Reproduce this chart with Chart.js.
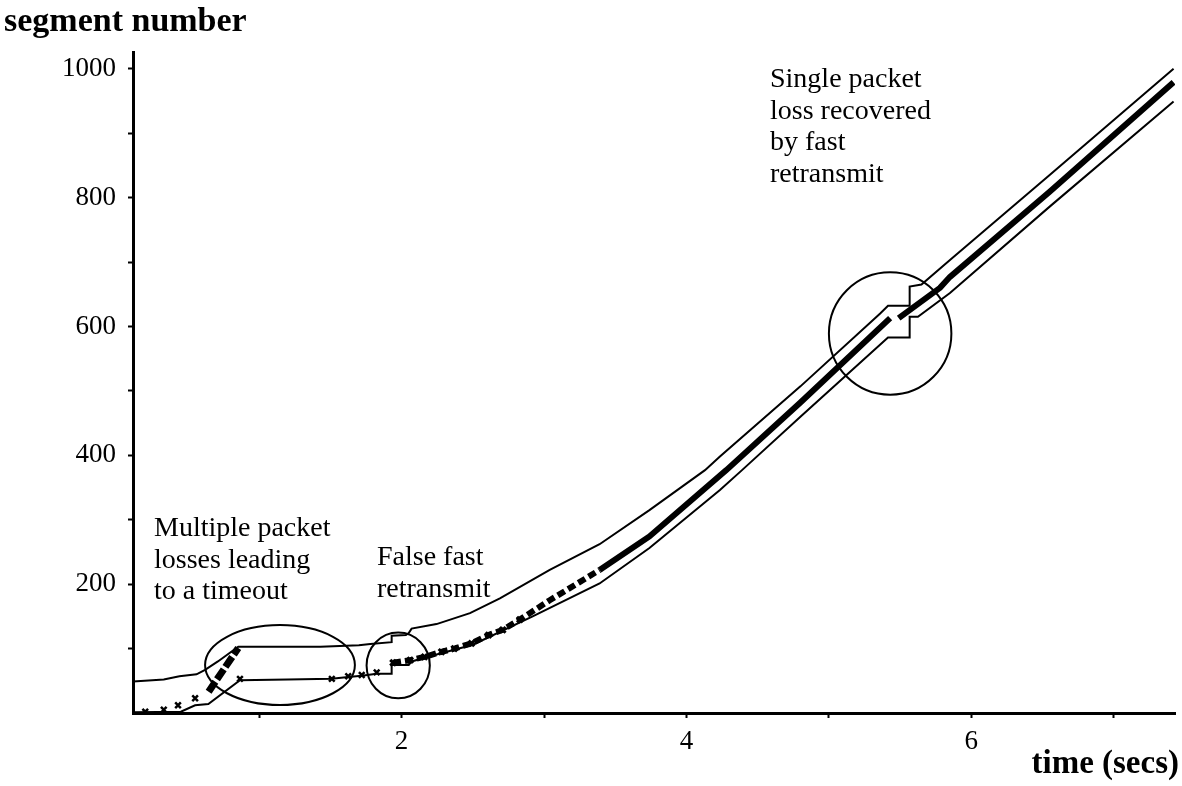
<!DOCTYPE html>
<html><head><meta charset="utf-8">
<script src="https://cdn.jsdelivr.net/npm/chart.js@4"></script>
<style>html,body{margin:0;padding:0;background:#fff}canvas{display:block}</style>
</head><body>
<canvas id="c" width="1182" height="786"></canvas>
<script>
// upper thin line
const upperTime = [0.114,0.33,0.44,0.56,0.62,0.71,0.853,1.43,1.70,1.78,1.93,1.93,2.03,2.05,2.07,2.245,2.48,2.69,3.04,3.39,3.74,4.13,4.235,4.80,5.36,5.415,5.567,5.567,5.65,5.85,6.55,7.42];
const upperSeg  = [49,52,57,60,67,80,103,103,105,107,110,120,121,124,131,138,155,178,222,262,315,377,398,507,620,632,632,662,665,703,835,1000];
// lower thin line (acks)
const ackTime = [0.114,0.45,0.55,0.643,0.865,1.20,1.51,1.625,1.72,1.825,1.93,1.93,2.05,2.07,2.20,2.50,2.92,3.39,3.74,4.235,4.39,4.80,5.415,5.567,5.567,5.625,5.85,6.55,7.42];
const ackSeg  = [1,2,12,14,51,52,53,56,58,61,61,74.5,74.5,80,88,106,150,201,256,346,377,460,583,583,615,615,652,786,949];
// early isolated sends (x markers)
const markTime = [0.20,0.33,0.43,0.55,0.865,1.51,1.625,1.72,1.825];
const markSeg  = [2,5,12,23,53,53,57,59,63];
// burst before timeout
const burstTime = [0.645,0.853];
const burstSeg  = [33,101];
// main sends (null = gap)
const sentTime = [1.94,2.06,2.16,2.28,2.37,2.49,2.61,2.71,2.83,3.04,3.39,3.74,4.28,4.80,5.43,5.46,5.49,5.78,5.85,6.55,7.42];
const sentSeg  = [78,82,87,95,100,108,121,129,145,175,222,274,377,482,613,null,613,660,677,809,979];
// ticks
const xTicks = [1,2,3,4,5,6,7];
const xTickLabels = ['','2','','4','','6',''];
const yTicks = [100,200,300,400,500,600,700,800,900,1000];
const yTickLabels = ['','200','','400','','600','','800','','1000'];
// annotation ellipses (data units)
const ellCx = [1.146,1.976,5.43];
const ellCy = [74.5,73.8,589];
const ellRx = [0.526,0.222,0.43];
const ellRy = [62,51,95];

const pts = (xs, ys) => xs.map((x,i)=>({x:x, y:ys[i]}));

const extras = {
  id:'extras',
  afterDatasetsDraw(chart){
    const {ctx, scales:{x,y}} = chart;
    ctx.save();
    ctx.strokeStyle='#000'; ctx.lineWidth=2;
    for(let i=0;i<ellCx.length;i++){
      const cx=x.getPixelForValue(ellCx[i]), cy=y.getPixelForValue(ellCy[i]);
      const rx=Math.abs(x.getPixelForValue(ellCx[i]+ellRx[i])-cx);
      const ry=Math.abs(y.getPixelForValue(ellCy[i]+ellRy[i])-cy);
      ctx.beginPath(); ctx.ellipse(cx,cy,rx,ry,0,0,Math.PI*2); ctx.stroke();
    }
    ctx.restore();
  },
  afterDraw(chart){
    const ctx=chart.ctx;
    ctx.save();
    ctx.fillStyle='#000';
    ctx.textBaseline='alphabetic';
    ctx.font='bold 34px "Liberation Serif"';
    ctx.textAlign='left';
    ctx.fillText('segment number',4,31);
    ctx.font='bold 33px "Liberation Serif"';
    ctx.textAlign='right';
    ctx.fillText('time (secs)',1179,773);
    ctx.textAlign='left';
    ctx.font='28px "Liberation Serif"';
    const blocks=[
      {x:154,y:536,lines:['Multiple packet','losses leading','to a timeout']},
      {x:377,y:565,lines:['False fast','retransmit']},
      {x:770,y:87,lines:['Single packet','loss recovered','by fast','retransmit']}
    ];
    blocks.forEach(b=>b.lines.forEach((t,i)=>ctx.fillText(t,b.x,b.y+i*31.5)));
    ctx.restore();
  }
};

new Chart(document.getElementById('c'),{
  type:'scatter',
  data:{datasets:[
    {data:pts(upperTime,upperSeg),showLine:true,borderColor:'#000',borderWidth:2,pointRadius:0,tension:0},
    {data:pts(ackTime,ackSeg),showLine:true,borderColor:'#000',borderWidth:2,pointRadius:0,tension:0},
    {data:pts(burstTime,burstSeg),showLine:true,borderColor:'#000',borderWidth:7,pointRadius:0,borderDash:[12,3]},
    {data:pts(sentTime,sentSeg),showLine:true,borderColor:'#000',borderWidth:6,spanGaps:false,
      pointStyle:'crossRot',pointRadius:c=>(c.raw&&c.raw.x<2.9)?4:0,pointBorderWidth:3,pointBorderColor:'#000',
      segment:{borderDash:c=>c.p0.parsed.x<3.3?[8,4]:undefined}},
    {data:pts(markTime,markSeg),showLine:false,pointStyle:'crossRot',pointRadius:4,pointBorderWidth:2.5,pointBorderColor:'#000'}
  ]},
  options:{
    responsive:false,animation:false,
    layout:{padding:{top:52,right:7,left:0,bottom:0}},
    plugins:{legend:{display:false},tooltip:{enabled:false}},
    scales:{
      x:{type:'linear',min:0.114,max:7.43,
        afterFit:s=>{s.height=73;},
        afterBuildTicks:a=>{a.ticks=xTicks.map(v=>({value:v}));},
        border:{color:'#000',width:3},
        grid:{drawOnChartArea:false,drawTicks:true,tickLength:5,tickColor:'#000',tickWidth:2},
        ticks:{color:'#000',padding:8,font:{family:'Liberation Serif',size:27},
          callback:(v)=>{const i=xTicks.indexOf(v);return i>=0?xTickLabels[i]:'';}}
      },
      y:{type:'linear',min:0,max:1026,
        afterFit:s=>{s.width=133;},
        afterBuildTicks:a=>{a.ticks=yTicks.map(v=>({value:v}));},
        border:{color:'#000',width:3},
        grid:{drawOnChartArea:false,drawTicks:true,tickLength:5,tickColor:'#000',tickWidth:2},
        ticks:{color:'#000',padding:12,font:{family:'Liberation Serif',size:27},
          callback:(v)=>{const i=yTicks.indexOf(v);return i>=0?yTickLabels[i]:'';}}
      }
    }
  },
  plugins:[extras]
});
</script>
</body></html>
